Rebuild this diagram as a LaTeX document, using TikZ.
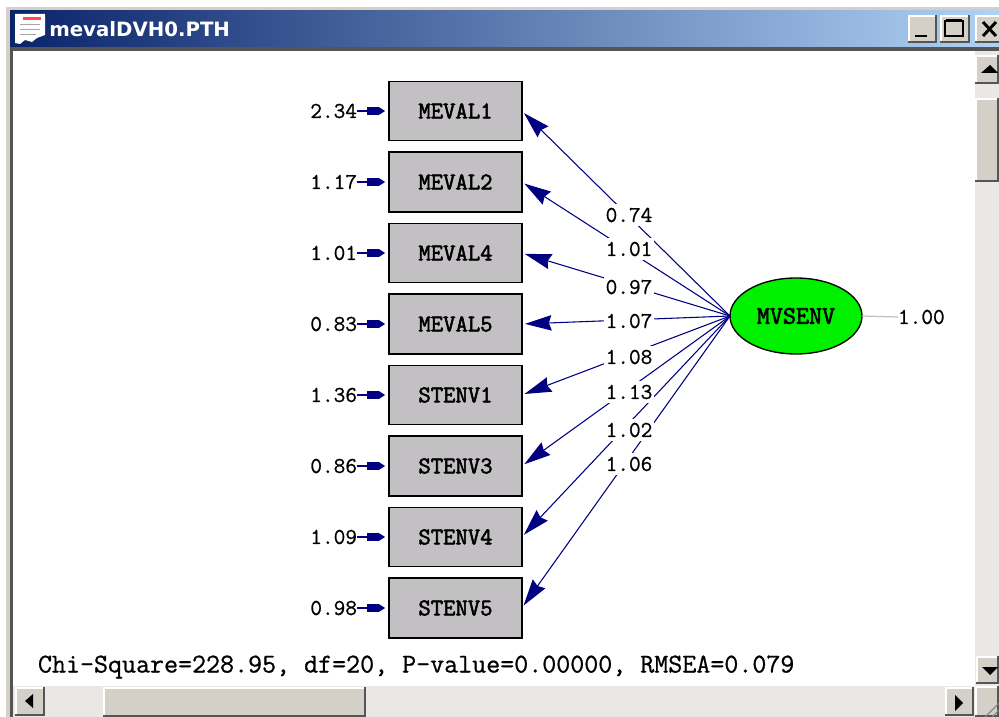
\documentclass[tikz,border=0pt]{standalone}
\usepackage{fontspec}
\usetikzlibrary{shapes.geometric,arrows.meta}
\setmonofont{Latin Modern Mono}
\newfontfamily\titlefont{DejaVu Sans}
\newfontfamily\heavymono[FakeBold=2.2]{Latin Modern Mono}
\newfontfamily\midmono[FakeBold=0.8]{Latin Modern Mono}
\definecolor{navyline}{RGB}{0,0,128}
\definecolor{wingray}{RGB}{212,208,200}
\definecolor{windark}{RGB}{85,85,85}
\definecolor{wincheck}{RGB}{234,232,228}
\definecolor{boxgray}{RGB}{195,192,195}
\definecolor{lvgreen}{RGB}{0,240,0}
\definecolor{barleft}{RGB}{10,36,106}
\definecolor{barright}{RGB}{175,210,245}
\newcommand{\winbutton}[4]{%
  \fill[wingray] (#1,#2) rectangle (#3,#4);
  \draw[white,line width=1.5pt] (#1+1,#4) -- (#1+1,#2+1) -- (#3-1,#2+1);
  \draw[windark,line width=1.5pt] (#1,#4-1) -- (#3-1,#4-1) -- (#3-1,#2);
}
\tikzset{
  obsbox/.style={draw=black,line width=1.2pt,fill=boxgray,rectangle,minimum width=99.5pt,minimum height=44.5pt,inner sep=0pt,outer sep=0pt,font=\heavymono\fontsize{18}{20}\selectfont},
  latent/.style={draw=black,line width=1pt,fill=lvgreen,ellipse,minimum width=99pt,minimum height=57pt,inner sep=0pt,outer sep=0pt,font=\heavymono\fontsize{19}{20}\selectfont},
  numlab/.style={font=\midmono\fontsize{17}{18}\selectfont,inner sep=0pt,outer sep=0pt,text=black},
  loadlab/.style={numlab,fill=white,minimum width=37pt,minimum height=17pt},
  loading/.style={draw=navyline,line width=0.8pt,-{Stealth[length=20pt,width=11.5pt,inset=2pt]},shorten >=2.25pt},
  errpath/.style={draw=navyline,line width=0.9pt,-{Rectangle[length=9pt,width=6pt,sep=0pt]Stealth[length=5pt,width=6pt,inset=0pt]},shorten >=3pt},
  residual/.style={draw=black!25,line width=0.9pt},
}
\begin{document}
\begin{tikzpicture}[x=0.75pt,y=-0.75pt]
\useasboundingbox (0,0) rectangle (999,717);
% window frame
\fill[white] (0,0) rectangle (999,717);
\fill[wingray] (6,7) rectangle (999,717);
\shade[left color=barleft,right color=barright] (10,11) rectangle (999,47);
\fill[windark] (10,47) rectangle (999,51);
\fill[windark] (10,47) rectangle (13,717);
\fill[white] (13,51) rectangle (975,686);
% title
\fill[white] (15,14) -- (45,14) -- (45,35) -- (37,38) -- (32,42) -- (25,40) -- (20,44) -- (15,43) -- cycle;
\fill[red!70!white] (23,17) rectangle (41,20);
\draw[black!35,line width=0.4pt] (20,24) -- (40,24) (20,29) -- (40,29) (20,34) -- (36,34);
\node[anchor=west,text=white,inner sep=0pt,font=\titlefont\bfseries\fontsize{14.8}{18}\selectfont] (title) at (49,29) {mevalDVH0.PTH};
\winbutton{908}{15}{937}{43}
\winbutton{940}{15}{970}{43}
\winbutton{975}{15}{1004}{43}
\draw[black,line width=2.2pt] (915,36) -- (927,36);
\draw[black,line width=1.2pt] (945,21) rectangle (963,36);
\draw[black,line width=2pt] (946,20) -- (962,20);
\draw[black,line width=2.2pt] (983,22) -- (996,36) (996,22) -- (983,36);
% scrollbars
\fill[wincheck] (975,51) rectangle (999,686);
\fill[wincheck] (13,686) rectangle (975,717);
\winbutton{975}{55}{999}{84}
\winbutton{975}{98}{999}{182}
\winbutton{976}{656}{999}{684}
\winbutton{15}{687}{45}{716}
\winbutton{103}{687}{366}{717}
\winbutton{945}{687}{974}{716}
\winbutton{975}{686}{999}{717}
\draw[black!50,line width=0.8pt] (985,717) -- (999,703) (992,717) -- (999,710);
\fill[black] (981,73) -- (998,73) -- (990,65) -- cycle;
\fill[black] (982,667) -- (998,667) -- (990,675) -- cycle;
\fill[black] (33,694) -- (33,708) -- (25,701) -- cycle;
\fill[black] (955,695) -- (955,711) -- (963,703) -- cycle;
% nodes
\node[obsbox] (b1) at (455.5,111) {MEVAL1};
\node[obsbox,minimum height=45pt] (b2) at (455.5,182) {MEVAL2};
\node[obsbox] (b3) at (455.5,253) {MEVAL4};
\node[obsbox,minimum height=45pt] (b4) at (455.5,324) {MEVAL5};
\node[obsbox] (b5) at (455.5,395) {STENV1};
\node[obsbox,minimum height=45pt] (b6) at (455.5,466) {STENV3};
\node[obsbox] (b7) at (455.5,537) {STENV4};
\node[obsbox,minimum height=45pt] (b8) at (455.5,608) {STENV5};
\node[latent] (lv) at (796,316) {MVSENV};
% residual labels
\node[numlab,anchor=east] (e1) at (357,111) {2.34};
\node[numlab,anchor=east] (e2) at (357,182) {1.17};
\node[numlab,anchor=east] (e3) at (357,253) {1.01};
\node[numlab,anchor=east] (e4) at (357,324) {0.83};
\node[numlab,anchor=east] (e5) at (357,395) {1.36};
\node[numlab,anchor=east] (e6) at (357,466) {0.86};
\node[numlab,anchor=east] (e7) at (357,537) {1.09};
\node[numlab,anchor=east] (e8) at (357,608) {0.98};
\foreach \i in {1,...,8} \draw[errpath] (e\i.east) -- (b\i.west);
% loadings
\foreach \i in {1,...,8} \draw[loading] (lv.west) -- (b\i.east);
\node[loadlab] (l1) at (629,215) {0.74};
\node[loadlab] (l2) at (629,249) {1.01};
\node[loadlab] (l3) at (629,287) {0.97};
\node[loadlab] (l4) at (629,321) {1.07};
\node[loadlab] (l5) at (629,357) {1.08};
\node[loadlab] (l6) at (629,392) {1.13};
\node[loadlab] (l7) at (629,430) {1.02};
\node[loadlab] (l8) at (629,464) {1.06};
% latent residual
\node[numlab,anchor=west] (e0) at (898,317) {1.00};
\draw[residual] (lv.east) -- (e0.west);
% fit line
\node[numlab,anchor=west,font=\midmono\fontsize{20.4}{22}\selectfont] (fit) at (38,667) {Chi-Square=228.95, df=20, P-value=0.00000, RMSEA=0.079};
\end{tikzpicture}
\end{document}
